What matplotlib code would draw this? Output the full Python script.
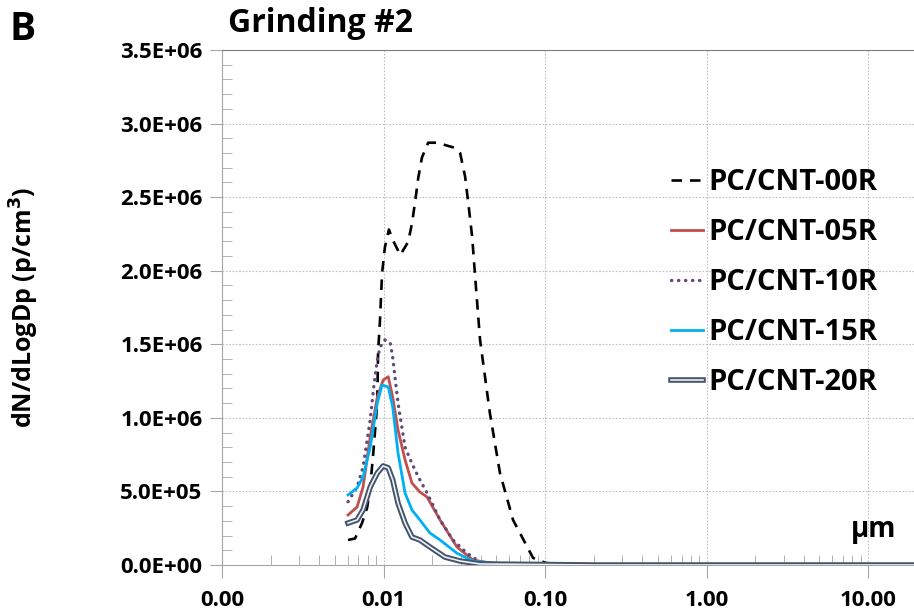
import matplotlib
matplotlib.use("Agg")
import matplotlib.pyplot as plt
import matplotlib.patheffects as pe
from matplotlib.ticker import LogLocator, MultipleLocator, FormatStrFormatter, NullFormatter

plt.rcParams['font.family'] = ['Open Sans', 'DejaVu Sans']
plt.rcParams['font.weight'] = 'bold'

# DATA  (particle diameter in um, dN/dLogDp in p/cm3)

x_00 = [0.00603, 0.00666, 0.00736, 0.00792, 0.00827, 0.00864, 0.00915, 0.00925, 0.00951,
        0.00979, 0.0102, 0.0108, 0.0114, 0.0127, 0.0142, 0.0150, 0.0157, 0.0164, 0.0173,
        0.0189, 0.0214, 0.0277, 0.0298, 0.0320, 0.0334, 0.0354, 0.0368, 0.0396, 0.0456,
        0.0526, 0.0634, 0.0843, 0.101, 0.124, 0.2, 0.5, 1.0, 2.0, 5.0, 10.0, 20.0]
y_00 = [0.17e6, 0.18e6, 0.285e6, 0.39e6, 0.53e6, 0.76e6, 1.10e6, 1.44e6, 1.665e6,
        1.98e6, 2.16e6, 2.28e6, 2.21e6, 2.107e6, 2.195e6, 2.32e6, 2.47e6, 2.63e6, 2.77e6,
        2.87e6, 2.87e6, 2.835e6, 2.80e6, 2.64e6, 2.47e6, 2.23e6, 1.98e6, 1.53e6, 1.03e6,
        0.625e6, 0.306e6, 0.048e6, 0.014e6, 0.005e6, 0.002e6, 0.0, 0.0, 0.0, 0.0, 0.0, 0.0]

x_05 = [0.00603, 0.00686, 0.00747, 0.00827, 0.00915, 0.00995, 0.0107, 0.0114, 0.0123,
        0.0136, 0.0150, 0.0168, 0.0186, 0.0224, 0.0285, 0.0358, 0.0456, 0.070,
        0.2, 0.5, 1.0, 2.0, 5.0, 10.0, 20.0]
y_05 = [0.34e6, 0.394e6, 0.53e6, 0.87e6, 1.14e6, 1.257e6, 1.28e6, 1.14e6, 0.917e6,
        0.714e6, 0.557e6, 0.496e6, 0.462e6, 0.306e6, 0.122e6, 0.034e6, 0.014e6, 0.003e6,
        0.0, 0.0, 0.0, 0.0, 0.0, 0.0, 0.0]

x_10 = [0.00603, 0.00686, 0.00747, 0.00827, 0.0087, 0.00915, 0.00951, 0.0102, 0.0110,
        0.0114, 0.0123, 0.0136, 0.0150, 0.0164, 0.0186, 0.0224, 0.0269, 0.0329, 0.0396,
        0.0526, 0.2, 0.5, 1.0, 2.0, 5.0, 10.0, 20.0]
y_10 = [0.43e6, 0.53e6, 0.666e6, 0.985e6, 1.21e6, 1.393e6, 1.48e6, 1.53e6, 1.51e6,
        1.41e6, 1.10e6, 0.80e6, 0.69e6, 0.60e6, 0.49e6, 0.306e6, 0.17e6, 0.08e6, 0.02e6,
        0.007e6, 0.0, 0.0, 0.0, 0.0, 0.0, 0.0, 0.0]

x_15 = [0.00603, 0.00686, 0.00747, 0.00827, 0.00915, 0.00979, 0.0107, 0.0114, 0.0123,
        0.0136, 0.0150, 0.0168, 0.0194, 0.0224, 0.0285, 0.0358, 0.0526,
        0.2, 0.5, 1.0, 2.0, 5.0, 10.0, 20.0]
y_15 = [0.476e6, 0.523e6, 0.598e6, 0.80e6, 1.10e6, 1.223e6, 1.21e6, 1.074e6, 0.761e6,
        0.489e6, 0.374e6, 0.306e6, 0.217e6, 0.17e6, 0.08e6, 0.027e6, 0.007e6,
        0.0, 0.0, 0.0, 0.0, 0.0, 0.0, 0.0]

x_20 = [0.00603, 0.00686, 0.00747, 0.00827, 0.00915, 0.00995, 0.0107, 0.0114, 0.0123,
        0.0136, 0.0150, 0.0168, 0.0194, 0.0240, 0.0298, 0.0396,
        0.2, 0.5, 1.0, 2.0, 5.0, 10.0, 20.0]
y_20 = [0.285e6, 0.306e6, 0.374e6, 0.53e6, 0.625e6, 0.673e6, 0.66e6, 0.578e6, 0.42e6,
        0.285e6, 0.19e6, 0.17e6, 0.122e6, 0.054e6, 0.027e6, 0.007e6,
        0.0, 0.0, 0.0, 0.0, 0.0, 0.0, 0.0]

labels = ["PC/CNT-00R", "PC/CNT-05R", "PC/CNT-10R", "PC/CNT-15R", "PC/CNT-20R"]


# PLOTTING

fig = plt.figure(figsize=(9.14, 6.16), dpi=100)
ax = fig.add_axes([0.2429, 0.0828, 0.7600, 0.836])

ax.plot(x_00, y_00, color='black', lw=1.9, linestyle=(0, (4, 3)), label=labels[0], zorder=3)
ax.plot(x_05, y_05, color='#C0504D', lw=2.0, label=labels[1], zorder=4)
ax.plot(x_10, y_10, color='#604A7B', lw=2.4, linestyle=(0, (0.1, 2.0)),
        dash_capstyle='round', label=labels[2], zorder=5)
ax.plot(x_15, y_15, color='#00B0F0', lw=2.0, label=labels[3], zorder=6)
ax.plot(x_20, y_20, color='#EEF1F6', lw=1.2, label=labels[4], zorder=7,
        path_effects=[pe.Stroke(linewidth=4.0, foreground='#44546A'), pe.Normal()])

ax.set_xscale('log')
ax.set_xlim(0.001, 20)
ax.set_ylim(0, 3.5e6)

ax.xaxis.set_major_locator(LogLocator(base=10, numticks=10))
ax.xaxis.set_minor_locator(LogLocator(base=10, subs=range(2, 10), numticks=50))
ax.xaxis.set_major_formatter(FormatStrFormatter('%.2f'))
ax.xaxis.set_minor_formatter(NullFormatter())
ax.yaxis.set_major_locator(MultipleLocator(0.5e6))
ax.yaxis.set_minor_locator(MultipleLocator(0.1e6))
ax.yaxis.set_major_formatter(FormatStrFormatter('%.1E'))

ax.grid(True, which='major', color='#BFBFBF', linestyle=(0, (1.5, 1.5)), lw=0.8)
ax.tick_params(axis='both', which='major', direction='out', length=9, color='#A6A6A6',
               labelsize=16, pad=5)
ax.tick_params(axis='both', which='minor', direction='in', length=7, color='#A6A6A6')
for lab in ax.get_xticklabels() + ax.get_yticklabels():
    lab.set_fontweight('bold')
ax.tick_params(axis='x', pad=9)

ax.spines['right'].set_visible(False)
ax.spines['left'].set_color('#A6A6A6')
ax.spines['bottom'].set_color('#A6A6A6')
ax.spines['top'].set_color('#7F7F7F')

ax.set_ylabel("dN/dLogDp (p/cm$^\\mathbf{3}$)", fontsize=18, fontweight='bold', va='center')
ax.yaxis.set_label_coords(-0.284, 0.5)

leg = ax.legend(loc='upper left', bbox_to_anchor=(0.609, 0.822), frameon=False,
                fontsize=21, handlelength=1.1, handletextpad=0.17, labelspacing=0.72)
for t in leg.get_texts():
    t.set_fontweight('bold')

fig.text(0.249, 0.962, "Grinding #2", fontsize=23, fontweight='bold', va='center', ha='left')
fig.text(0.010, 0.952, "B", fontsize=28, fontweight='bold', va='center', ha='left')
ax.text(0.97, 0.04, "µm", transform=ax.transAxes, fontsize=20, fontweight='bold',
        ha='right', va='bottom')

fig.savefig("out.png", dpi=100)
